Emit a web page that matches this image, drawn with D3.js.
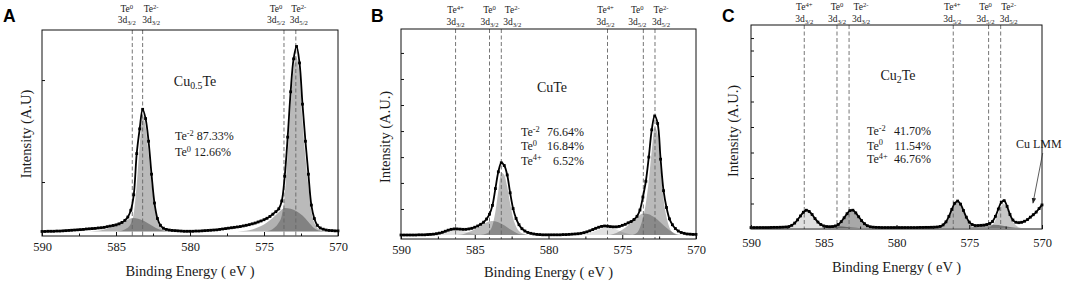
<!DOCTYPE html>
<html>
<head>
<meta charset="utf-8">
<script src="https://cdn.jsdelivr.net/npm/d3@7"></script>
<style>
  body { margin: 0; background: #fff; }
</style>
</head>
<body>
<svg id="fig" width="1065" height="284"></svg>
<script>
// XPS Te 3d spectra of Cu0.5Te, CuTe, Cu2Te
// intensities are read off the figure, in % of the plot height

// shared binding-energy grid of the measured curves (eV)
const energyGrid = [590,589.8,589.6,589.4,589.2,589,588.8,588.6,588.4,588.2,
  588,587.8,587.6,587.4,587.2,587,586.8,586.6,586.4,586.2,
  586,585.8,585.6,585.4,585.2,585,584.8,584.6,584.4,584.2,
  584,583.8,583.6,583.4,583.2,583,582.8,582.6,582.4,582.2,
  582,581.8,581.6,581.4,581.2,581,580.8,580.6,580.4,580.2,
  580,579.8,579.6,579.4,579.2,579,578.8,578.6,578.4,578.2,
  578,577.8,577.6,577.4,577.2,577,576.8,576.6,576.4,576.2,
  576,575.8,575.6,575.4,575.2,575,574.8,574.6,574.4,574.2,
  574,573.8,573.6,573.4,573.2,573,572.8,572.6,572.4,572.2,
  572,571.8,571.6,571.4,571.2,571,570.8,570.6,570.4,570.2,
  570];

// measured envelopes
const envA = [2.2,2.2,2.3,2.3,2.3,2.4,2.4,2.5,2.6,2.7,
  2.8,2.9,3.0,3.1,3.2,3.4,3.5,3.6,3.7,3.9,
  4.0,4.2,4.5,4.8,5.1,5.4,5.9,6.6,7.6,9.2,
  12.5,20,40,52,61.5,57,46,30,16,8.5,
  5.2,3.8,3.2,2.9,2.7,2.6,2.5,2.4,2.3,2.3,
  2.3,2.3,2.4,2.4,2.5,2.6,2.7,2.8,2.9,3.0,
  3.2,3.4,3.6,3.8,4.0,4.2,4.4,4.6,4.9,5.2,
  5.5,5.9,6.3,6.8,7.3,7.9,8.6,9.5,10.6,11.8,
  13.2,17,29,48,70,86,92,84,64,46,
  30,15,8.5,5.2,3.9,3.3,2.9,2.7,2.6,2.5,
  2.5];

const envB = [1.9,1.9,1.9,1.9,1.9,1.9,2.0,2.0,2.0,2.1,
  2.2,2.3,2.5,2.8,3.2,3.7,4.2,4.6,4.8,4.8,
  4.7,4.6,4.6,4.8,5.1,5.6,6.2,7.0,8.0,9.5,
  11.8,16,24,32,36.3,35,30.5,22,14.5,9.8,
  6.8,4.9,3.8,3.1,2.7,2.4,2.2,2.1,2.0,2.0,
  2.0,2.0,2.0,2.0,2.0,2.1,2.1,2.2,2.3,2.4,
  2.5,2.7,3.0,3.4,3.9,4.5,5.1,5.6,6.0,6.2,
  6.1,5.9,5.8,5.8,6.0,6.5,7.0,7.7,8.3,9.3,
  10.8,13.8,20,27.5,39,52,58.6,55,38,23,
  15,9.6,6.8,5.0,3.8,3.1,2.7,2.4,2.3,2.2,
  2.2];

const envC = [0.7,0.7,0.7,0.7,0.7,0.7,0.7,0.75,0.8,0.8,
  0.85,0.9,1.0,1.2,1.8,2.9,4.5,6.4,8.2,9.2,
  8.6,7.1,5.1,3.4,2.2,1.5,1.2,1.1,1.2,1.5,
  2.2,3.6,5.5,7.5,9.0,9.2,7.9,6.0,4.1,2.6,
  1.6,1.1,0.9,0.8,0.75,0.7,0.7,0.7,0.7,0.7,
  0.7,0.7,0.7,0.7,0.7,0.7,0.7,0.7,0.75,0.75,
  0.8,0.8,0.85,0.9,1.0,1.25,2.0,3.5,6.2,9.6,
  12.6,13.7,12.2,9.1,5.8,3.4,2.2,1.7,1.7,1.8,
  1.9,2.2,2.7,3.7,6.2,9.8,13.1,13.9,11.1,7.1,
  4.4,3.3,3.1,3.3,3.8,4.6,5.8,7.0,8.3,10.0,
  11.8];

// fitted components, [energy, intensity]
const fitA_Te0 = [[590,2.2],[586.8,2.2],[586.4,2.4],[586.0,2.8],[585.6,3.5],[585.2,4.5],[584.8,5.8],[584.4,7.2],[584.1,8.3],[583.85,8.7],[583.5,8.4],[583.1,7.3],[582.7,5.6],[582.3,3.9],[581.9,2.8],[581.5,2.3],[581.1,2.2],
  [576.8,2.2],[576.4,2.4],[576.0,2.8],[575.6,3.6],[575.2,4.8],[574.8,6.5],[574.4,8.8],[574.0,11.5],[573.6,13.6],[573.2,13.2],[572.8,12.0],[572.4,9.9],[572.0,6.8],[571.6,3.8],[571.2,2.5],[570.8,2.2],[570,2.2]];
const fitA_Te2 = [[590,2.2],[585.0,2.2],[584.6,2.6],[584.3,3.6],[584.0,6.0],[583.8,11],[583.6,25],[583.4,44],[583.2,58.5],[583.0,53],[582.8,40],[582.6,26],[582.4,14],[582.2,7.5],[582.0,4.4],[581.8,3.1],[581.5,2.4],[581.0,2.2],
  [575.0,2.2],[574.6,2.7],[574.3,4.0],[574.0,6.5],[573.8,10],[573.6,20],[573.4,40],[573.2,63],[573.0,81],[572.85,87],[572.6,79],[572.4,56],[572.2,38],[572.0,24],[571.8,12],[571.6,6.4],[571.4,3.9],[571.2,2.8],[570.8,2.3],[570,2.2]];

const fitB_Te4 = [[590,1.9],[588.0,1.9],[587.6,2.2],[587.2,2.9],[586.8,3.8],[586.4,4.4],[586.0,4.2],[585.6,3.4],[585.2,2.6],[584.8,2.1],[584.4,1.9],
  [577.8,1.9],[577.4,2.3],[577.0,3.3],[576.6,4.5],[576.2,5.5],[575.9,5.7],[575.6,5.1],[575.2,3.9],[574.8,2.8],[574.4,2.1],[574.0,1.9],[570,1.9]];
const fitB_Te0 = [[590,1.9],[586.2,1.9],[585.8,2.3],[585.4,3.3],[585.0,4.6],[584.6,6.2],[584.2,7.8],[583.85,8.6],[583.4,8.0],[583.0,6.5],[582.6,4.6],[582.2,3.0],[581.8,2.1],[581.4,1.9],
  [576.0,1.9],[575.6,2.4],[575.2,3.6],[574.8,5.4],[574.4,7.8],[574.0,10.4],[573.57,12.2],[573.2,11.8],[572.8,10.2],[572.4,7.9],[572.0,5.4],[571.6,3.3],[571.2,2.1],[570.8,1.9],[570,1.9]];
const fitB_Te2 = [[590,1.9],[584.6,1.9],[584.2,2.6],[584.0,3.6],[583.8,6.5],[583.6,13],[583.4,23],[583.2,31.5],[583.0,30.5],[582.8,25],[582.6,17],[582.4,10],[582.2,6],[582.0,3.8],[581.8,2.7],[581.4,2.0],[581.0,1.9],
  [574.4,1.9],[574.0,3.0],[573.8,5.5],[573.6,10],[573.4,17],[573.2,28],[573.0,42],[572.8,53],[572.6,50],[572.4,34],[572.2,19],[572.0,10.5],[571.8,5.5],[571.6,3.2],[571.4,2.3],[571.0,1.9],[570,1.9]];

// panel C components, one array per spin-orbit peak (they are shaded differently)
const fitC_Te4_32 = [[587.8,0.5],[587.4,1.0],[587.2,1.6],[587.0,2.6],[586.8,4.2],[586.6,6.1],[586.4,7.9],[586.17,8.7],[586.0,8.3],[585.8,6.9],[585.6,4.9],[585.4,3.1],[585.2,1.8],[585.0,1.0],[584.8,0.6],[584.6,0.5]];
const fitC_Te4_52 = [[577.4,0.5],[577.0,0.9],[576.8,1.6],[576.6,3.1],[576.4,5.8],[576.2,9.2],[576.0,12.1],[575.82,13.1],[575.6,11.6],[575.4,8.5],[575.2,5.2],[575.0,2.8],[574.8,1.4],[574.6,0.8],[574.4,0.5]];
const fitC_Te2_32 = [[584.6,0.5],[584.2,1.1],[584.0,1.8],[583.8,3.2],[583.6,5.1],[583.4,7.1],[583.2,8.3],[583.08,8.6],[582.8,7.6],[582.6,5.8],[582.4,3.9],[582.2,2.3],[582.0,1.3],[581.8,0.7],[581.6,0.5]];
const fitC_Te2_52 = [[573.8,0.5],[573.6,0.9],[573.4,2.0],[573.2,4.3],[573.0,7.8],[572.8,11.2],[572.66,12.4],[572.4,10.2],[572.2,6.5],[572.0,3.6],[571.8,1.8],[571.6,0.9],[571.4,0.5]];
const fitC_Te0 = [[590,0.5],[585.2,0.5],[584.6,0.8],[584.0,1.3],[583.4,1.0],[582.8,0.6],[582.4,0.5],
  [575.0,0.5],[574.4,1.2],[573.7,2.2],[573.0,1.9],[572.4,1.2],[571.8,0.6],[571.4,0.5],[570,0.5]];

// reference peak positions (eV) and their labels
const peaksA = [583.9, 583.2, 573.65, 572.85];
const peaksA_state = ["Te0", "Te2-", "Te0", "Te2-"];
const peaksB = [586.3, 584.0, 583.2, 576.0, 573.57, 572.78];
const peaksB_state = ["Te4+", "Te0", "Te2-", "Te4+", "Te0", "Te2-"];
const peaksC = [586.34, 584.09, 583.26, 576.1, 573.67, 572.84];
const peaksC_state = ["Te4+", "Te0", "Te2-", "Te4+", "Te0", "Te2-"];
const levelA = ["3/2", "3/2", "5/2", "5/2"];
const levelBC = ["3/2", "3/2", "3/2", "5/2", "5/2", "5/2"];

// composition
const shareA_state = ["Te-2", "Te0"];
const shareA_value = ["87.33%", "12.66%"];
const shareB_state = ["Te-2", "Te0", "Te4+"];
const shareB_value = ["76.64%", "16.84%", "6.52%"];
const shareC_state = ["Te-2", "Te0", "Te4+"];
const shareC_value = ["41.70%", "11.54%", "46.76%"];

// axis ticks
const energyTicks = [590, 585, 580, 575, 570];
const energyMinor = [587.5, 582.5, 577.5, 572.5];
const yTicksA = [26.2, 75.7];
const yTicksB = [14.3, 26.7, 39, 51.4, 63.8, 76.2, 88.6];
const yTicksC = [12.5, 25, 37.5, 50, 62.5, 75, 87.5, 93.6];

const SERIF = "'Liberation Serif', 'Times New Roman', Times, 'DejaVu Serif', serif";
const SANS = "'Liberation Sans', Arial, Helvetica, sans-serif";

const svg = d3.select("#fig");

// text with super/subscripts; parts = [{t, sup|sub}]
function rich(parent, x, y, parts, size, anchor) {
  const t = parent.append("text")
    .attr("x", x).attr("y", y)
    .attr("font-size", size)
    .attr("text-anchor", anchor || "start");
  let shift = 0;
  parts.forEach(p => {
    const s = p.sup ? -0.36 * size : p.sub ? 0.24 * size : 0;
    const sp = t.append("tspan").attr("dy", s - shift).text(p.t);
    if (p.sup || p.sub) sp.attr("font-size", size * 0.7);
    shift = s;
  });
  return t;
}
const stateParts = s => [{ t: "Te" }, { t: s.slice(2), sup: true }];

function drawPanel(cfg) {
  const g = svg.append("g");
  const x = d3.scaleLinear().domain([590, 570]).range([cfg.left, cfg.right]);
  const y = d3.scaleLinear().domain([0, 100]).range([cfg.bottom, cfg.top]);

  // fitted components (translucent grey, overlaps come out darker)
  cfg.fits.forEach(f => {
    g.append("path")
      .datum(f.data)
      .attr("fill", "#000")
      .attr("fill-opacity", f.opacity)
      .attr("d", d3.area()
        .x(d => x(d[0]))
        .y0(y(cfg.base))
        .y1(d => y(d[1]))
        .curve(d3.curveMonotoneX));
  });

  // peak reference lines + labels on top
  cfg.peaks.forEach((e, i) => {
    g.append("line")
      .attr("x1", x(e)).attr("x2", x(e))
      .attr("y1", cfg.top).attr("y2", cfg.bottom)
      .attr("stroke", "#666").attr("stroke-width", 0.9)
      .attr("stroke-dasharray", "4,2.5");
    const lx = x(e) + cfg.nudge[i];
    rich(g, lx, cfg.labelY[0], stateParts(cfg.states[i]), 9.5, "middle");
    rich(g, lx, cfg.labelY[1], [{ t: "3d" }, { t: cfg.levels[i], sub: true }], 9.5, "middle");
  });

  // measured curve
  const pts = energyGrid.map((e, i) => [e, cfg.env[i]]);
  g.append("path")
    .datum(pts)
    .attr("fill", "none")
    .attr("stroke", "#000")
    .attr("stroke-width", 1.8)
    .attr("d", d3.line().x(d => x(d[0])).y(d => y(d[1])).curve(d3.curveCatmullRom.alpha(0.5)));
  g.selectAll("rect.pt")
    .data(pts)
    .join("rect")
    .attr("class", "pt")
    .attr("x", d => x(d[0]) - 1.4).attr("y", d => y(d[1]) - 1.4)
    .attr("width", 2.8).attr("height", 2.8)
    .attr("fill", "#000");

  // frame
  g.append("rect")
    .attr("x", cfg.left).attr("y", cfg.top)
    .attr("width", cfg.right - cfg.left).attr("height", cfg.bottom - cfg.top)
    .attr("fill", "none").attr("stroke", "#111").attr("stroke-width", 1);

  // x axis, inward ticks
  g.append("g")
    .attr("transform", `translate(0,${cfg.bottom})`)
    .call(d3.axisBottom(x).tickValues(energyTicks).tickSize(-4).tickPadding(cfg.tickPad).tickFormat(d3.format("d")))
    .call(a => a.select(".domain").remove())
    .call(a => a.selectAll("line").attr("stroke", "#111"))
    .selectAll("text")
    .attr("font-size", 12.5)
    .attr("fill", "#1a1a1a");
  g.append("g")
    .attr("transform", `translate(0,${cfg.bottom})`)
    .call(d3.axisBottom(x).tickValues(energyMinor).tickSize(-2.5).tickFormat(""))
    .call(a => a.select(".domain").remove())
    .call(a => a.selectAll("line").attr("stroke", "#111"));

  // y ticks only
  g.append("g")
    .attr("transform", `translate(${cfg.left},0)`)
    .call(d3.axisLeft(y).tickValues(cfg.yTicks).tickSize(-3).tickFormat(""))
    .call(a => a.select(".domain").remove())
    .call(a => a.selectAll("line").attr("stroke", "#111"));

  // titles
  g.append("text")
    .attr("x", (cfg.left + cfg.right) / 2 + cfg.xTitleDx).attr("y", cfg.xTitleY)
    .attr("text-anchor", "middle").attr("font-size", 14.5)
    .text("Binding Energy ( eV )");
  g.append("text")
    .attr("transform", `translate(${cfg.yTitleX},${cfg.yTitleCY}) rotate(-90)`)
    .attr("text-anchor", "middle").attr("font-size", 14.5)
    .text(cfg.yTitle);

  // sample name and composition
  rich(g, cfg.nameX, cfg.nameY, cfg.name, 14, "middle");
  cfg.shareStates.forEach((s, i) => {
    const yy = cfg.shareY[i];
    if (cfg.shareRight) {
      rich(g, cfg.shareX, yy, stateParts(s), 12, "start");
      g.append("text").attr("x", cfg.shareRight).attr("y", yy)
        .attr("font-size", 12).attr("text-anchor", "end").text(cfg.shareValues[i]);
    } else {
      const t = rich(g, cfg.shareX, yy, stateParts(s), 12, "start");
      t.append("tspan").attr("dy", 0.36 * 12).text("\u00a0" + cfg.shareValues[i]);
    }
  });

  // everything so far is set in a Times-like face
  g.selectAll("text").style("font-family", SERIF).style("fill", "#1a1a1a");

  g.append("text")
    .attr("x", cfg.letterX).attr("y", 22)
    .attr("font-size", 17.5).attr("font-weight", "bold")
    .style("font-family", SANS)
    .text(cfg.letter);

  return { x, y, g };
}

drawPanel({
  letter: "A", letterX: 3,
  left: 42, right: 338, top: 30, bottom: 236, base: 2.2, tickPad: 6,
  env: envA,
  fits: [{ data: fitA_Te2, opacity: 0.27 }, { data: fitA_Te0, opacity: 0.3 }],
  peaks: peaksA, states: peaksA_state, levels: levelA,
  nudge: [-5.5, 8.5, -8, 3], labelY: [12, 23],
  yTicks: yTicksA, yTitle: "Intensity (A.U)", yTitleX: 31, yTitleCY: 134,
  xTitleY: 276, xTitleDx: 0,
  name: [{ t: "Cu" }, { t: "0.5", sub: true }, { t: "Te" }], nameX: 195, nameY: 86,
  shareStates: shareA_state, shareValues: shareA_value, shareX: 175, shareY: [140, 156]
});

drawPanel({
  letter: "B", letterX: 371,
  left: 401, right: 696, top: 29, bottom: 239, base: 1.9, tickPad: 6,
  env: envB,
  fits: [{ data: fitB_Te4, opacity: 0.12 }, { data: fitB_Te0, opacity: 0.26 }, { data: fitB_Te2, opacity: 0.27 }],
  peaks: peaksB, states: peaksB_state, levels: levelBC,
  nudge: [0, 0, 11, -2, -6, 6], labelY: [13, 25],
  yTicks: yTicksB, yTitle: "Intensity (A.U.)", yTitleX: 390, yTitleCY: 137,
  xTitleY: 277, xTitleDx: 0,
  name: [{ t: "CuTe" }], nameX: 552, nameY: 92,
  shareStates: shareB_state, shareValues: shareB_value, shareX: 521, shareRight: 584, shareY: [136, 150, 164.5]
});

const pc = drawPanel({
  letter: "C", letterX: 722,
  left: 751, right: 1042, top: 25, bottom: 229, base: 0.5, tickPad: 9,
  env: envC,
  fits: [
    { data: fitC_Te4_32, opacity: 0.12 }, { data: fitC_Te2_32, opacity: 0.34 },
    { data: fitC_Te4_52, opacity: 0.3 }, { data: fitC_Te2_52, opacity: 0.22 },
    { data: fitC_Te0, opacity: 0.4 }
  ],
  peaks: peaksC, states: peaksC_state, levels: levelBC,
  nudge: [0, 0, 12, -1, -3, 8], labelY: [10, 22],
  yTicks: yTicksC, yTitle: "Intensity (A.U.)", yTitleX: 738, yTitleCY: 131,
  xTitleY: 272, xTitleDx: 0,
  name: [{ t: "Cu" }, { t: "2", sub: true }, { t: "Te" }], nameX: 898, nameY: 80,
  shareStates: shareC_state, shareValues: shareC_value, shareX: 867, shareRight: 931, shareY: [135, 149.5, 163]
});

// Cu LMM annotation
svg.append("defs").append("marker")
  .attr("id", "arr").attr("viewBox", "0 0 10 10")
  .attr("refX", 9).attr("refY", 5)
  .attr("markerWidth", 7).attr("markerHeight", 7)
  .attr("orient", "auto")
  .append("path").attr("d", "M0,1 L10,5 L0,9 Z").attr("fill", "#222");
pc.g.append("line")
  .attr("x1", pc.x(569.95)).attr("y1", 153)
  .attr("x2", pc.x(570.62)).attr("y2", pc.y(12.7))
  .attr("stroke", "#333").attr("stroke-width", 0.8)
  .attr("marker-end", "url(#arr)");
pc.g.append("text")
  .attr("x", 1016).attr("y", 148)
  .attr("font-size", 12)
  .style("font-family", SERIF).style("fill", "#1a1a1a")
  .text("Cu LMM");
</script>
</body>
</html>
